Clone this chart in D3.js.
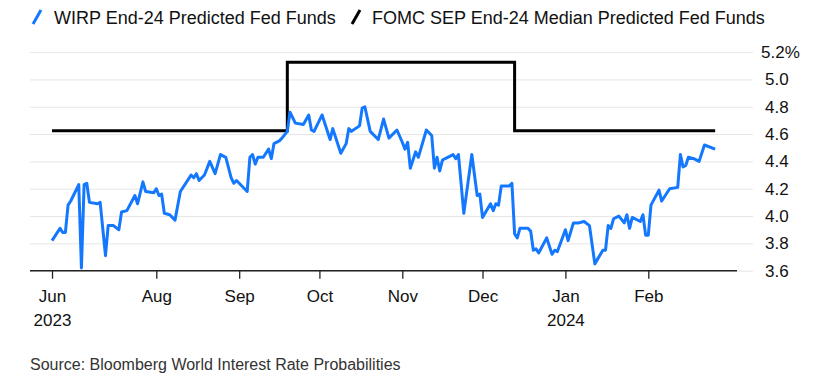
<!DOCTYPE html>
<html><head><meta charset="utf-8">
<script src="https://cdn.jsdelivr.net/npm/d3@7/dist/d3.min.js"></script>
<style>
html,body{margin:0;padding:0;background:#fff;}
svg{display:block;font-family:"Liberation Sans",Arial,sans-serif;}
</style></head>
<body><svg id="c" width="817" height="379"></svg>
<script>
const wirpDates = ["2023-06-23","2023-06-26","2023-06-27","2023-06-28","2023-06-29","2023-06-30","2023-07-03","2023-07-04","2023-07-05","2023-07-06","2023-07-07","2023-07-10","2023-07-11","2023-07-13","2023-07-14","2023-07-16","2023-07-18","2023-07-19","2023-07-21","2023-07-24","2023-07-25","2023-07-27","2023-07-28","2023-07-31","2023-08-01","2023-08-02","2023-08-03","2023-08-04","2023-08-06","2023-08-08","2023-08-10","2023-08-14","2023-08-15","2023-08-16","2023-08-17","2023-08-19","2023-08-20","2023-08-21","2023-08-23","2023-08-25","2023-08-27","2023-08-29","2023-08-30","2023-08-31","2023-09-02","2023-09-04","2023-09-05","2023-09-06","2023-09-07","2023-09-08","2023-09-10","2023-09-12","2023-09-13","2023-09-14","2023-09-16","2023-09-17","2023-09-19","2023-09-20","2023-09-22","2023-09-25","2023-09-27","2023-09-28","2023-09-29","2023-10-02","2023-10-05","2023-10-06","2023-10-09","2023-10-11","2023-10-12","2023-10-13","2023-10-16","2023-10-17","2023-10-18","2023-10-20","2023-10-23","2023-10-25","2023-10-27","2023-10-30","2023-11-01","2023-11-02","2023-11-03","2023-11-04","2023-11-06","2023-11-07","2023-11-10","2023-11-12","2023-11-13","2023-11-14","2023-11-15","2023-11-16","2023-11-18","2023-11-20","2023-11-21","2023-11-22","2023-11-24","2023-11-27","2023-11-29","2023-11-30","2023-12-01","2023-12-04","2023-12-05","2023-12-06","2023-12-07","2023-12-08","2023-12-11","2023-12-12","2023-12-13","2023-12-14","2023-12-15","2023-12-18","2023-12-19","2023-12-20","2023-12-21","2023-12-22","2023-12-25","2023-12-27","2023-12-28","2023-12-29","2024-01-01","2024-01-02","2024-01-04","2024-01-06","2024-01-08","2024-01-10","2024-01-12","2024-01-15","2024-01-16","2024-01-17","2024-01-18","2024-01-19","2024-01-21","2024-01-23","2024-01-24","2024-01-25","2024-01-26","2024-01-29","2024-01-30","2024-01-31","2024-02-01","2024-02-02","2024-02-05","2024-02-06","2024-02-09","2024-02-12","2024-02-13","2024-02-14","2024-02-15","2024-02-16","2024-02-18","2024-02-20","2024-02-22","2024-02-26"];
const wirpValues = [3.82,3.91,3.88,3.88,4.08,4.11,4.23,3.62,4.23,4.24,4.10,4.09,4.10,3.71,3.93,3.93,3.90,4.03,4.04,4.15,4.09,4.25,4.18,4.17,4.20,4.15,4.16,4.02,4.01,3.97,4.18,4.30,4.28,4.31,4.26,4.30,4.35,4.40,4.31,4.45,4.43,4.28,4.24,4.26,4.22,4.18,4.43,4.45,4.38,4.43,4.43,4.49,4.42,4.53,4.55,4.57,4.62,4.76,4.68,4.67,4.74,4.63,4.62,4.74,4.56,4.64,4.46,4.53,4.64,4.62,4.66,4.79,4.80,4.62,4.56,4.71,4.57,4.63,4.54,4.49,4.54,4.35,4.47,4.43,4.63,4.59,4.35,4.43,4.33,4.41,4.43,4.45,4.42,4.45,4.02,4.45,4.15,4.16,3.99,4.09,4.04,4.09,4.08,4.22,4.22,4.24,3.87,3.84,3.91,3.91,3.89,3.75,3.76,3.73,3.84,3.72,3.75,3.74,3.90,3.82,3.95,3.95,3.96,3.93,3.65,3.75,3.75,3.93,3.91,3.98,4.00,3.95,4.01,3.91,3.99,3.96,4.01,3.86,3.86,4.08,4.19,4.11,4.20,4.21,4.45,4.36,4.37,4.43,4.42,4.40,4.52,4.49];
const fomcDates = ["2023-06-23","2023-09-19","2023-12-13","2024-02-26"];
const fomcValues = [4.625,5.125,4.625,4.625];
const yTicks = [3.6,3.8,4.0,4.2,4.4,4.6,4.8,5.0,5.2];
const xTickDates = ["2023-06-23","2023-08-01","2023-09-01","2023-10-01","2023-11-01","2023-12-01","2024-01-01","2024-02-01"];
const xTickLabels = [["Jun","2023"],["Aug"],["Sep"],["Oct"],["Nov"],["Dec"],["Jan","2024"],["Feb"]];
const seriesNames = ["WIRP End-24 Predicted Fed Funds","FOMC SEP End-24 Median Predicted Fed Funds"];
const sourceText = "Source: Bloomberg World Interest Rate Probabilities";

const parse = d3.utcParse("%Y-%m-%d");
const svg = d3.select("#c");
const blue = "#1478ff";
const left = 30, gridRight = 753, axisRight = 737;

const x = d3.scaleUtc().domain([parse("2023-08-01"), parse("2024-02-01")]).range([156.3, 648.3]);
const y = d3.scaleLinear().domain([3.6, 5.2]).range([270.7, 52.1]);

// gridlines + y labels
const ya = svg.append("g").attr("transform", `translate(${gridRight},0)`)
  .call(d3.axisRight(y).tickValues(yTicks).tickSize(-(gridRight-left)).tickPadding(12)
    .tickFormat((d,i) => d3.format(".1f")(d) + (i === yTicks.length-1 ? "%" : "")));
ya.select(".domain").remove();
ya.selectAll(".tick line").attr("stroke", "#e6e6e6").attr("stroke-width", 1);
ya.selectAll(".tick text").attr("fill", "#111").attr("font-size", 17)
  .attr("font-family", "Liberation Sans, Arial, sans-serif")
  .attr("dx", (d,i) => i === yTicks.length-1 ? -4 : 0);

// x axis
const xa = svg.append("g").attr("transform", "translate(0,270.7)")
  .call(d3.axisBottom(x).tickValues(xTickDates.map(parse)).tickSize(8).tickFormat(() => ""));
xa.select(".domain").remove();
xa.selectAll(".tick line").attr("stroke", "#222").attr("stroke-width", 1.3);
xa.selectAll(".tick").each(function(d,i){
  const t = d3.select(this).append("text").attr("fill","#111").attr("font-size",17)
    .attr("text-anchor","middle").attr("font-family","Liberation Sans, Arial, sans-serif");
  xTickLabels[i].forEach((s,j) => t.append("tspan").attr("x",0).attr("y", 31 + j*24).text(s));
});
svg.append("line").attr("x1", left).attr("x2", axisRight).attr("y1", 270.7).attr("y2", 270.7)
  .attr("stroke", "#222").attr("stroke-width", 1.5);

// lines
const fomc = fomcDates.map((d,i) => ({d: parse(d), v: fomcValues[i]}));
svg.append("path").datum(fomc)
  .attr("d", d3.line().x(p => x(p.d)).y(p => y(p.v)).curve(d3.curveStepAfter))
  .attr("fill","none").attr("stroke","#000").attr("stroke-width",3);

const wirp = wirpDates.map((d,i) => ({d: parse(d), v: wirpValues[i]}));
svg.append("path").datum(wirp)
  .attr("d", d3.line().x(p => x(p.d)).y(p => y(p.v)))
  .attr("fill","none").attr("stroke",blue).attr("stroke-width",3).attr("stroke-linejoin","round");

// legend
const lg = svg.append("g").attr("font-family","Liberation Sans, Arial, sans-serif").attr("font-size",18).attr("fill","#111");
const legendItems = [{c: blue, ix: 33, tx: 54}, {c: "#000", ix: 352, tx: 372}];
legendItems.forEach((it,i) => {
  lg.append("line").attr("x1", it.ix).attr("y1", 24).attr("x2", it.ix+8).attr("y2", 10)
    .attr("stroke", it.c).attr("stroke-width", 3);
  lg.append("text").attr("x", it.tx).attr("y", 23.5).text(seriesNames[i]);
});

svg.append("text").attr("x", 30).attr("y", 370).attr("font-size", 16)
  .attr("font-family","Liberation Sans, Arial, sans-serif").attr("fill","#333").text(sourceText);
</script></body></html>
